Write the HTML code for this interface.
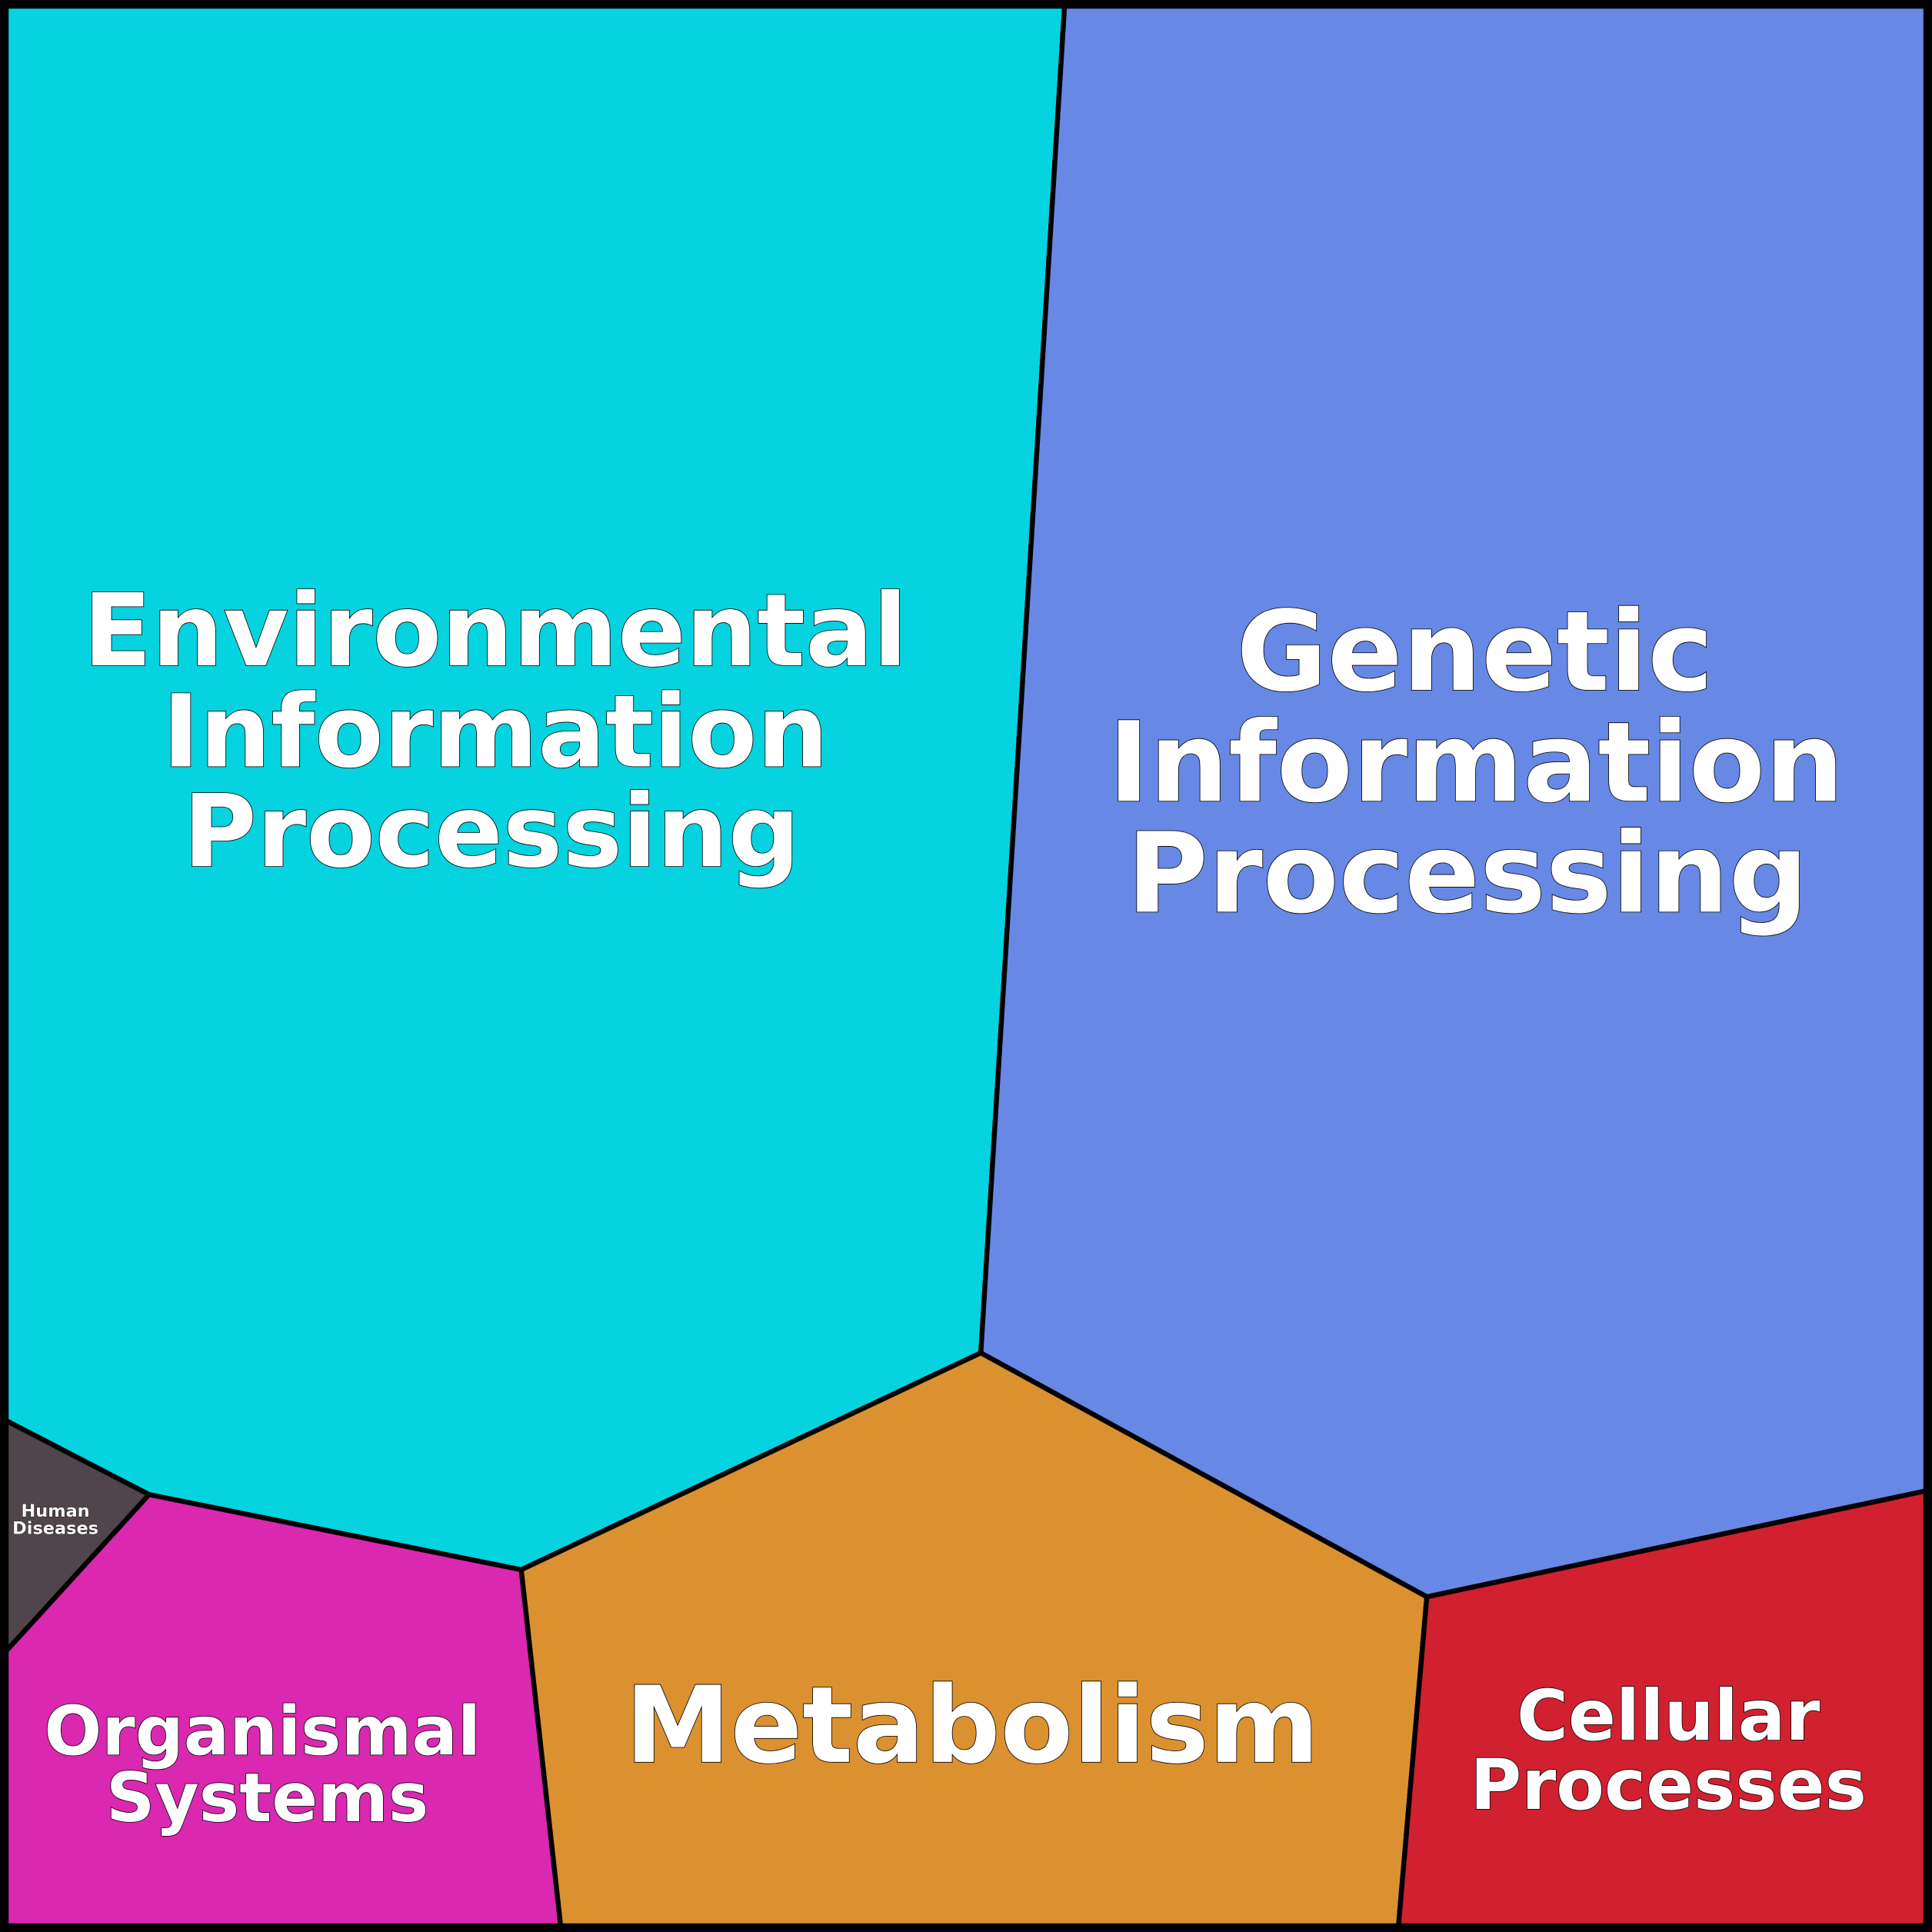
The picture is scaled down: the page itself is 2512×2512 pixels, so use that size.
<!DOCTYPE html>
<html><head><meta charset="utf-8"><style>html,body{margin:0;padding:0;background:#000}svg{display:block}</style></head>
<body>
<svg width="2512" height="2512" viewBox="0 0 1568 1568" xmlns="http://www.w3.org/2000/svg">
<rect x="0" y="0" width="1568" height="1568" fill="#000"/>
<g stroke="#000" stroke-width="4" stroke-linejoin="round">
<polygon points="5,5 864,5 796,1098 423,1274 121,1213 5,1153" fill="#05d3df"/>
<polygon points="864,5 1563,5 1563,1210 1158,1296 796,1098" fill="#6788e5"/>
<polygon points="796,1098 1158,1296 1135,1563 455,1563 423,1274" fill="#db912f"/>
<polygon points="5,1153 121,1213 5,1340" fill="#4f454a"/>
<polygon points="121,1213 423,1274 455,1563 5,1563 5,1340" fill="#da28b0"/>
<polygon points="1158,1296 1563,1210 1563,1563 1135,1563" fill="#d1202f"/>
</g>
<rect x="3" y="3" width="1562" height="1562" fill="none" stroke="#000" stroke-width="7"/>
<g font-family="'DejaVu Sans','Liberation Sans',sans-serif" font-weight="bold" text-anchor="middle" fill="#fff" stroke="#000" stroke-width="1" style="paint-order:stroke">
<g font-size="81.5"><text x="402" y="540">Environmental</text><text x="402" y="622">Information</text><text x="399" y="703">Processing</text></g>
<g font-size="90"><text x="1197" y="560">Genetic</text><text x="1198" y="650">Information</text><text x="1191" y="740">Processing</text></g>
<text x="789" y="1430" font-size="86">Metabolism</text>
<g font-size="55"><text x="213" y="1424">Organismal</text><text x="217" y="1478">Systems</text></g>
<g font-size="57"><text x="1354" y="1412">Cellular</text><text x="1354" y="1468">Processes</text></g>
<g font-size="14" stroke-width="0.5"><text x="45" y="1231">Human</text><text x="45" y="1245">Diseases</text></g>
</g>
</svg>
</body></html>
